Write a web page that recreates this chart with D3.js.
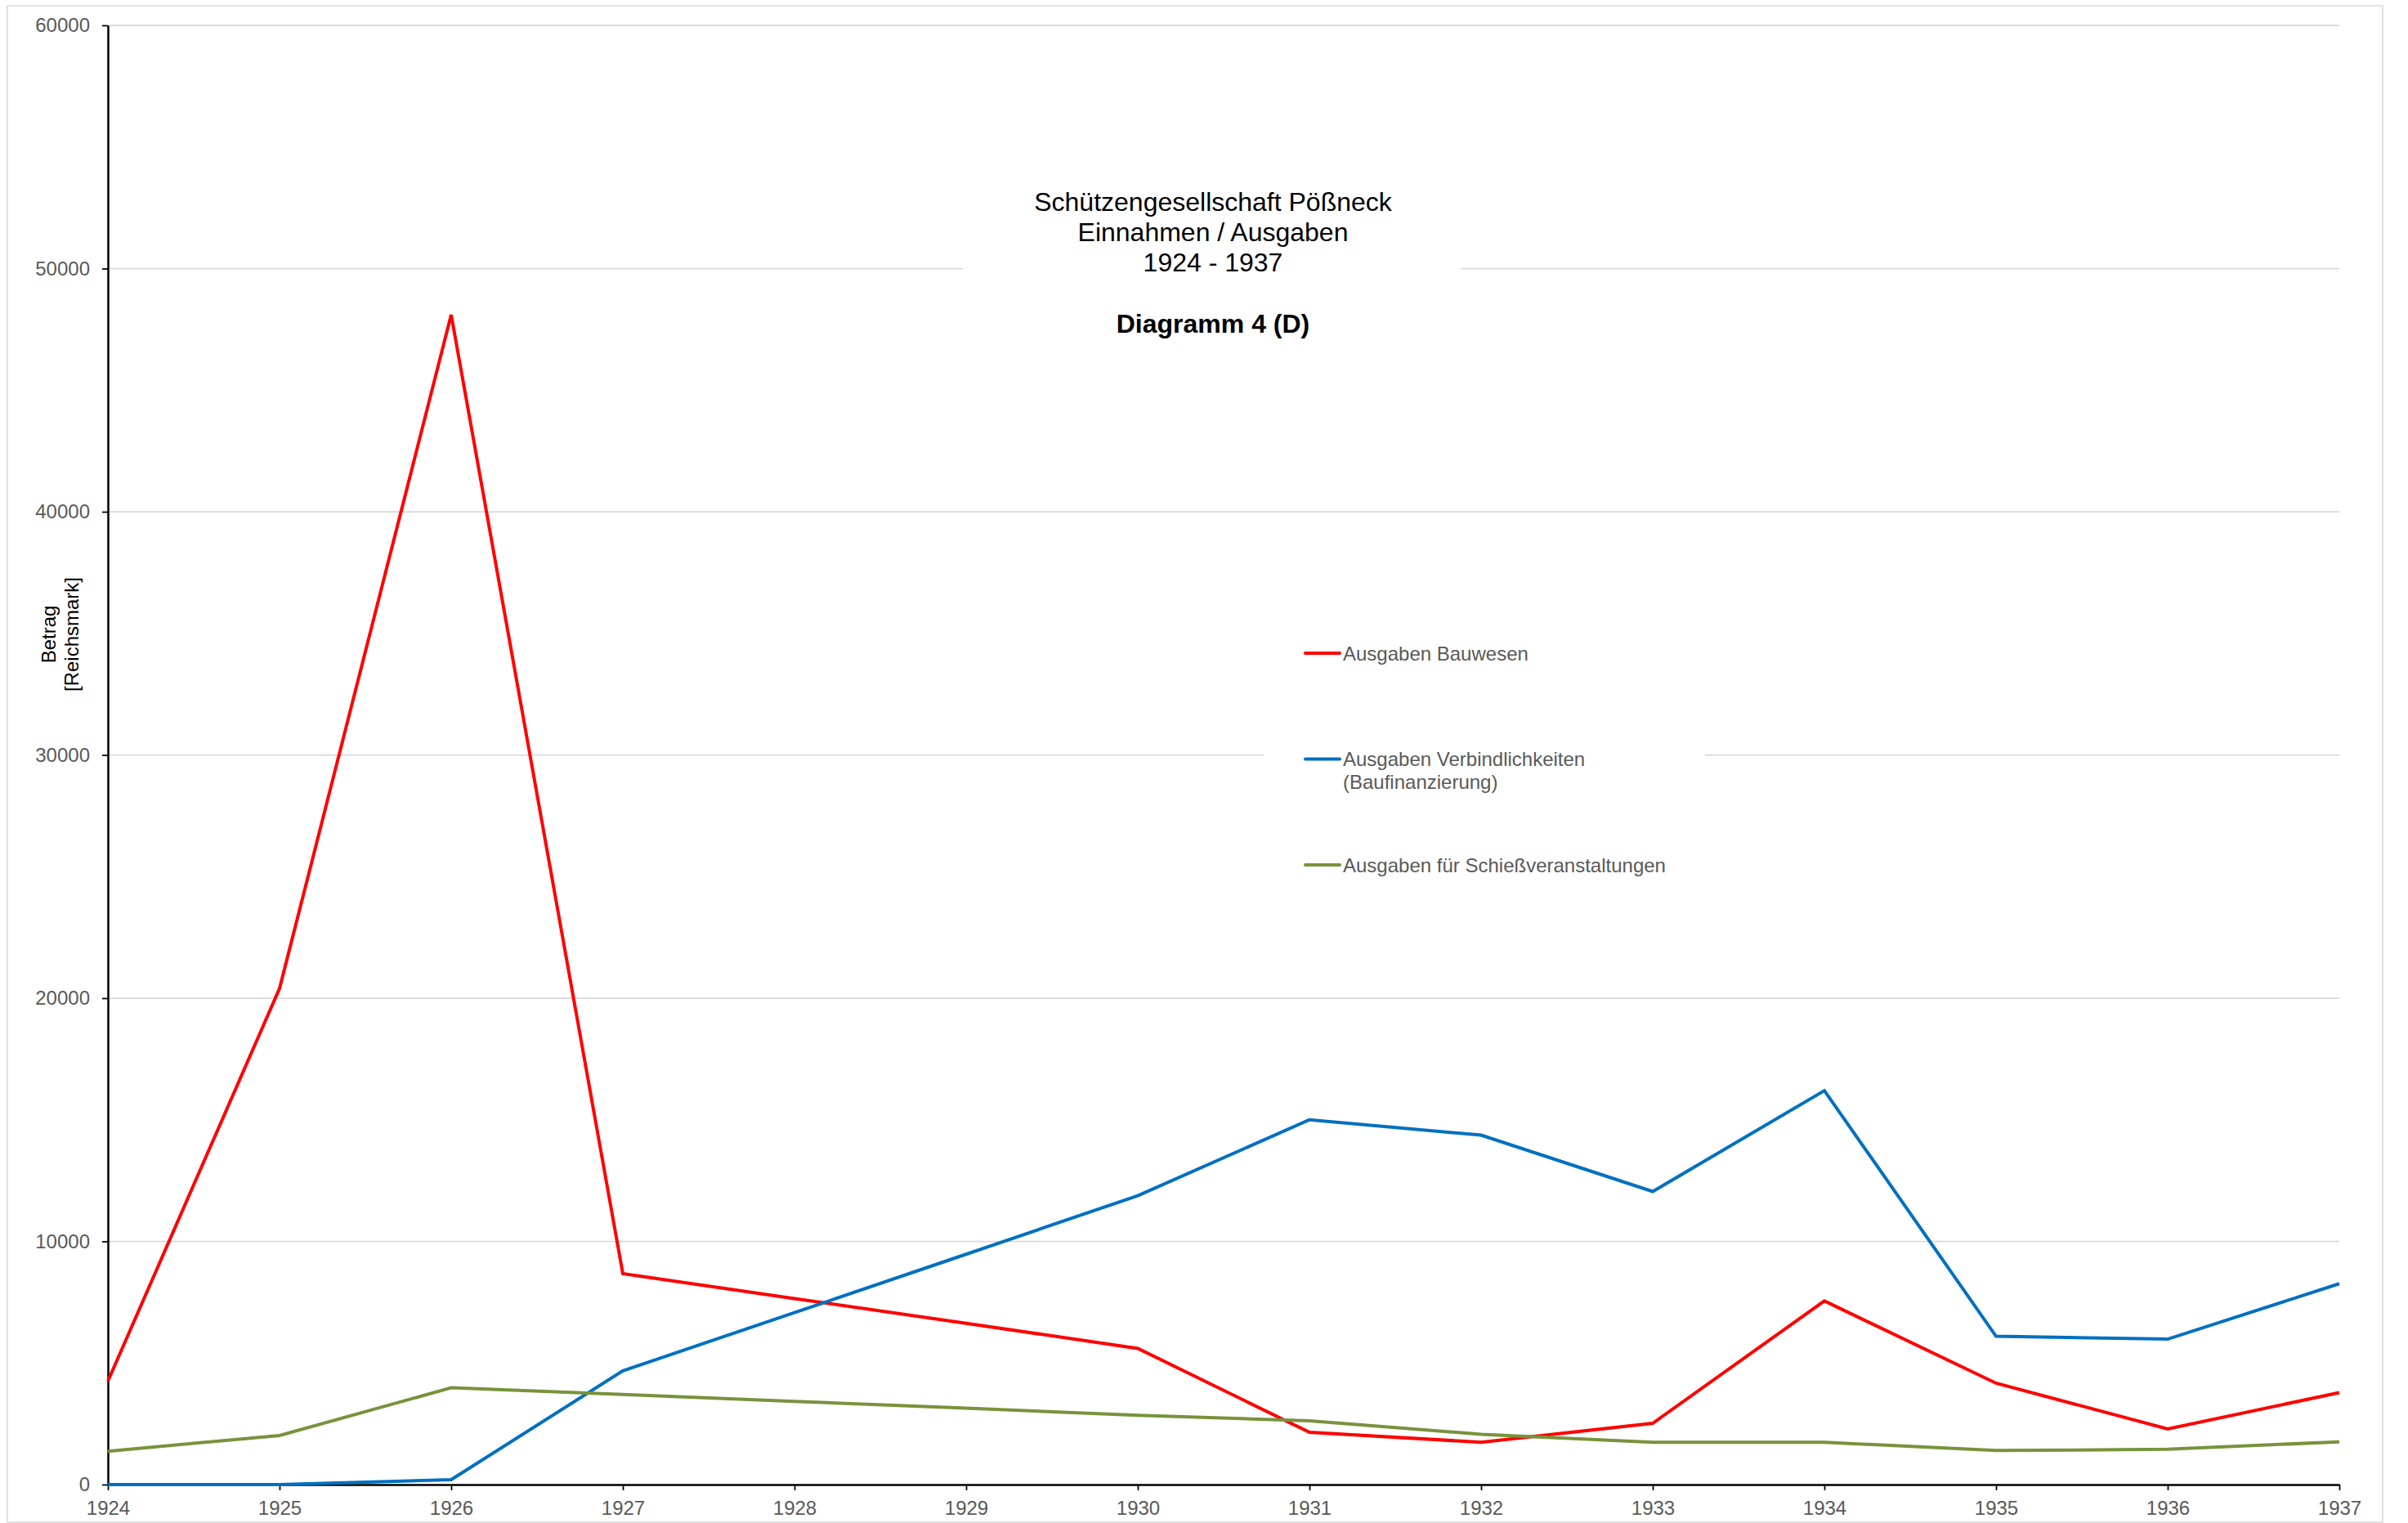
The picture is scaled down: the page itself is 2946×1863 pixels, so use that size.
<!DOCTYPE html>
<html>
<head>
<meta charset="utf-8">
<script src="https://cdn.jsdelivr.net/npm/d3@7"></script>
<style>
	body { margin: 0; background: #fff; }
	svg { display: block; font-family: "Liberation Sans", Arial, sans-serif; }
</style>
</head>
<body>
<svg id="chart" width="2946" height="1863"></svg>
<script>

var years = [1924, 1925, 1926, 1927, 1928, 1929, 1930, 1931, 1932, 1933, 1934, 1935, 1936, 1937];
var yTicks = [0, 10000, 20000, 30000, 40000, 50000, 60000];

var bauwesen = [4250, 20400, 48100, 8670, 7650, 6630, 5600, 2150, 1740, 2520, 7550, 4170, 2290, 3780];
var verbindlichkeiten = [0, 0, 200, 4680, 7070, 9470, 11880, 15000, 14370, 12050, 16200, 6100, 5980, 8260];
var schiessen = [1370, 2020, 3980, 3710, 3420, 3140, 2850, 2620, 2070, 1740, 1740, 1400, 1450, 1760];

var seriesNames = [['Ausgaben Bauwesen'], ['Ausgaben Verbindlichkeiten', '(Baufinanzierung)'], ['Ausgaben für Schießveranstaltungen']];
var seriesColors = ['#ff0000', '#0070c0', '#77933c'];

var titleLines = ['Schützengesellschaft Pößneck', 'Einnahmen / Ausgaben', '1924 - 1937'];
var subTitle = 'Diagramm 4 (D)';
var yTitle = ['Betrag', '[Reichsmark]'];

var svg = d3.select('#chart');

/**
 * Chart frame
 */
svg.append('rect')
	.attr('x', 9).attr('y', 7)
	.attr('width', 2906).attr('height', 1855)
	.attr('fill', '#fff')
	.attr('stroke', '#d9d9d9')
	.attr('stroke-width', 1.5);

var x = d3.scaleLinear().domain([1924, 1937]).range([132, 2862]);
var y = d3.scaleLinear().domain([0, 60000]).range([1816, 31]);

/**
 * Gridlines
 */
svg.append('g').selectAll('line')
	.data(yTicks.filter(function(d) { return d > 0; }))
	.enter().append('line')
	.attr('x1', x(1924)).attr('x2', x(1937))
	.attr('y1', function(d) { return y(d); })
	.attr('y2', function(d) { return y(d); })
	.attr('stroke', '#d9d9d9')
	.attr('stroke-width', 1.75);

/**
 * Title and legend sit on white boxes which hide the gridlines
 */
svg.append('rect').attr('x', 1178).attr('y', 215).attr('width', 610).attr('height', 215).attr('fill', '#fff');
svg.append('rect').attr('x', 1546).attr('y', 775).attr('width', 540).attr('height', 310).attr('fill', '#fff');

var title = svg.append('g').attr('font-size', 32).attr('fill', '#000').attr('text-anchor', 'middle');
titleLines.forEach(function(t, i) {
	title.append('text').attr('x', 1484).attr('y', 258 + i * 37).text(t);
});
title.append('text').attr('x', 1484).attr('y', 407).attr('font-weight', 'bold').text(subTitle);

/**
 * Axes
 */
var yAxis = svg.append('g')
	.attr('transform', 'translate(' + x(1924) + ',0)')
	.call(d3.axisLeft(y).tickValues(yTicks).tickSize(7).tickSizeOuter(0).tickPadding(15).tickFormat(d3.format('d')));

var xAxis = svg.append('g')
	.attr('transform', 'translate(0,' + y(0) + ')')
	.call(d3.axisBottom(x).tickValues(years).tickSize(7).tickSizeOuter(0).tickPadding(13).tickFormat(d3.format('d')));

[yAxis, xAxis].forEach(function(a) {
	a.attr('font-family', null).attr('font-size', null);
	a.select('.domain').attr('stroke', '#000').attr('stroke-width', 2.5);
	a.selectAll('.tick line').attr('stroke', '#000').attr('stroke-width', 1.75);
	a.selectAll('.tick text').attr('fill', '#595959').attr('font-size', 24);
});

var yLabel = svg.append('text')
	.attr('transform', 'translate(96,776) rotate(-90)')
	.attr('text-anchor', 'middle')
	.attr('font-size', 24)
	.attr('fill', '#000');
yLabel.append('tspan').attr('x', 0).attr('y', -28).text(yTitle[0]);
yLabel.append('tspan').attr('x', 0).attr('y', 0).text(yTitle[1]);

/**
 * Series lines
 */
var series = [bauwesen, verbindlichkeiten, schiessen];

var line = d3.line()
	.x(function(d, i) { return x(years[i]); })
	.y(function(d) { return y(d); });

svg.append('g').selectAll('path')
	.data(series)
	.enter().append('path')
	.attr('d', line)
	.attr('fill', 'none')
	.attr('stroke', function(d, i) { return seriesColors[i]; })
	.attr('stroke-width', 4)
	.attr('stroke-linejoin', 'miter');

/**
 * Legend
 */
var legend = svg.append('g').attr('font-size', 24).attr('fill', '#595959');
seriesNames.forEach(function(names, i) {
	var ly = 799 + i * 129.5;
	legend.append('line')
		.attr('x1', 1597).attr('x2', 1639)
		.attr('y1', ly).attr('y2', ly)
		.attr('stroke', seriesColors[i])
		.attr('stroke-width', 4)
		.attr('stroke-linecap', 'round');
	names.forEach(function(n, j) {
		legend.append('text')
			.attr('x', 1643)
			.attr('y', ly + 8.5 + j * 28)
			.text(n);
	});
});

</script>
</body>
</html>
